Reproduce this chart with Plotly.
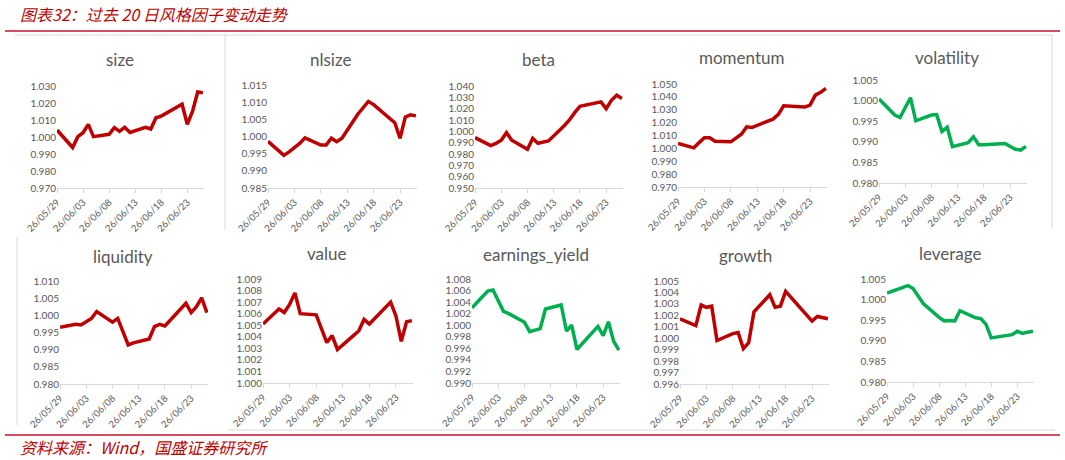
import plotly.graph_objects as go

dates = ["2026-05-29", "2026-06-01", "2026-06-02", "2026-06-03", "2026-06-04", "2026-06-05",
         "2026-06-08", "2026-06-09", "2026-06-10", "2026-06-11", "2026-06-12",
         "2026-06-15", "2026-06-16", "2026-06-17", "2026-06-18",
         "2026-06-22", "2026-06-23", "2026-06-24", "2026-06-25", "2026-06-26"]

size = [1.0041, 0.9938, 1.0002, 1.0025, 1.0074, 1.0002, 1.0016, 1.0055, 1.0033, 1.0057, 1.0027,
        1.0057, 1.0047, 1.0113, 1.0123, 1.0193, 1.0074, 1.0150, 1.0265, 1.0260]
nlsize = [0.9986, 0.9945, 0.9955, 0.9967, 0.9980, 0.9996, 0.9975, 0.9975, 0.9995, 0.9985, 0.9995,
          1.0065, 1.0085, 1.0102, 1.0093, 1.0040, 0.9995, 1.0057, 1.0063, 1.0060]
beta = [0.9944, 0.9874, 0.9894, 0.9921, 0.9988, 0.9921, 0.9842, 0.9938, 0.9895, 0.9905, 0.9915,
        1.0050, 1.0100, 1.0165, 1.0220, 1.0260, 1.0200, 1.0274, 1.0318, 1.0289]
momentum = [1.0038, 1.0004, 1.0045, 1.0082, 1.0082, 1.0056, 1.0051, 1.0077, 1.0110, 1.0167, 1.0162,
            1.0212, 1.0227, 1.0264, 1.0331, 1.0321, 1.0336, 1.0414, 1.0435, 1.0466]
volatility = [1.0004, 0.9965, 0.9959, 0.9983, 1.0007, 0.9951, 0.9965, 0.9966, 0.9925, 0.9935, 0.9888,
              0.9898, 0.9912, 0.9893, 0.9893, 0.9896, 0.9889, 0.9882, 0.9880, 0.9889]
liquidity = [0.9965, 0.9974, 0.9972, 0.9982, 0.9991, 1.0011, 0.9980, 0.9991, 0.9952, 0.9914, 0.9920,
             0.9931, 0.9967, 0.9974, 0.9969, 1.0035, 1.0008, 1.0025, 1.0051, 1.0008]
value = [1.0051, 1.0064, 1.0061, 1.0068, 1.0078, 1.0060, 1.0059, 1.0047, 1.0035, 1.0041, 1.0029,
         1.0041, 1.0045, 1.0055, 1.0051, 1.0070, 1.0058, 1.0036, 1.0053, 1.0054]
earnings_yield = [1.0030, 1.0059, 1.0061, 1.0042, 1.0024, 1.0020, 1.0005, 0.9989, 0.9992, 0.9994, 1.0028,
                  1.0035, 0.9990, 1.0000, 0.9958, 0.9998, 0.9982, 1.0006, 0.9972, 0.9957]
growth = [1.0017, 1.0011, 1.0029, 1.0027, 1.0028, 0.9998, 1.0004, 1.0005, 0.9991, 0.9996, 1.0023,
          1.0038, 1.0027, 1.0028, 1.0041, 1.0021, 1.0015, 1.0019, 1.0018, 1.0017]
leverage = [1.0016, 1.0028, 1.0034, 1.0027, 1.0007, 0.9990, 0.9957, 0.9948, 0.9949, 0.9948, 0.9973,
            0.9956, 0.9954, 0.9940, 0.9907, 0.9915, 0.9923, 0.9918, 0.9921, 0.9923]

names = ["size", "nlsize", "beta", "momentum", "volatility",
         "liquidity", "value", "earnings_yield", "growth", "leverage"]
series = [size, nlsize, beta, momentum, volatility, liquidity, value, earnings_yield, growth, leverage]
colors = ["#C00000", "#C00000", "#C00000", "#C00000", "#00B050",
          "#C00000", "#C00000", "#00B050", "#C00000", "#00B050"]
yranges = [(0.970, 1.030, 0.010), (0.985, 1.015, 0.005), (0.950, 1.040, 0.010), (0.970, 1.050, 0.010),
           (0.980, 1.005, 0.005), (0.980, 1.010, 0.005), (1.000, 1.009, 0.001), (0.990, 1.008, 0.002),
           (0.996, 1.005, 0.001), (0.980, 1.005, 0.005)]

# layout (pixels): plot-area boxes x0, x1, ytop, ybottom ; title centres
W, H = 1065, 460
boxes = [(57, 204, 86, 188), (268, 417, 85, 188), (475, 623, 86, 188), (678, 827, 84, 187), (879, 1027, 80, 183),
         (60, 208, 281, 384), (263, 413, 279, 383), (472, 620, 279, 383), (680, 829, 281, 384), (887, 1034, 279, 382)]
titles_pos = [(120, 59), (330, 59), (538, 59), (742, 57), (947, 58),
              (123, 256), (327, 253), (536, 254), (745, 255), (950, 253)]

fig = go.Figure()
layout = dict()
annotations = []
for i, (nm, ys, col, yr, box, tp) in enumerate(zip(names, series, colors, yranges, boxes, titles_pos)):
    k = "" if i == 0 else str(i + 1)
    fig.add_trace(go.Scatter(x=dates, y=ys, mode="lines", line=dict(color=col, width=3.5),
                             xaxis="x" + k, yaxis="y" + k, showlegend=False, hoverinfo="x+y"))
    x0, x1, yt, yb = box
    layout["xaxis" + k] = dict(
        domain=[x0 / W, x1 / W], anchor="y" + k, type="date", automargin=False,
        range=["2026-05-29", "2026-06-26 05:00"],
        tick0="2026-05-29", dtick=5 * 86400000, tickformat="%y/%m/%d",
        tickangle=-45, showgrid=False, zeroline=False,
        showline=True, linecolor="#d9d9d9", linewidth=1,
        ticks="outside", ticklen=4, tickcolor="#d9d9d9",
        tickfont=dict(family="Lato, Arial", size=9.5, color="#595959"),
    )
    lo, hi, dt = yr
    layout["yaxis" + k] = dict(
        domain=[1 - yb / H, 1 - yt / H], anchor="x" + k, automargin=False,
        range=[lo, hi], dtick=dt, tick0=lo, tickformat=".3f",
        showgrid=False, zeroline=False, showline=False, ticks="",
        tickfont=dict(family="Lato, Arial", size=10, color="#595959"),
    )
    annotations.append(dict(text=nm, x=tp[0] / W, y=1 - tp[1] / H, xref="paper", yref="paper",
                            showarrow=False, xanchor="center", yanchor="middle",
                            font=dict(family="Lato, Arial", size=17, color="#595959")))

annotations.append(dict(text="<i>图表32：过去 20 日风格因子变动走势</i>", x=18 / W, y=1 - 14 / H,
                        xref="paper", yref="paper", showarrow=False, xanchor="left", yanchor="middle",
                        font=dict(family="Noto Sans CJK SC", size=16, color="#C00000")))
annotations.append(dict(text="<i>资料来源：Wind，国盛证券研究所</i>", x=18 / W, y=1 - 447 / H,
                        xref="paper", yref="paper", showarrow=False, xanchor="left", yanchor="middle",
                        font=dict(family="Noto Sans CJK SC", size=16, color="#C00000")))

shapes = []
red = "#C8102E"
for py in (31, 435):
    shapes.append(dict(type="line", xref="paper", yref="paper", x0=5 / W, x1=1060 / W,
                       y0=1 - py / H, y1=1 - py / H, line=dict(color=red, width=1.5)))
gray = "#d9d9d9"
for (ax0, ay0, ax1, ay1) in [(15, 35, 1052, 35), (225, 35, 225, 230), (1052, 35, 1052, 228),
                             (17, 237, 17, 425), (228, 430, 1055, 430)]:
    shapes.append(dict(type="line", xref="paper", yref="paper", x0=ax0 / W, x1=ax1 / W,
                       y0=1 - ay0 / H, y1=1 - ay1 / H, line=dict(color=gray, width=1)))

fig.update_layout(width=W, height=H, margin=dict(l=0, r=0, t=0, b=0, autoexpand=False),
                  paper_bgcolor="white", plot_bgcolor="white",
                  annotations=annotations, shapes=shapes, **layout)
fig.write_html("out.html")
